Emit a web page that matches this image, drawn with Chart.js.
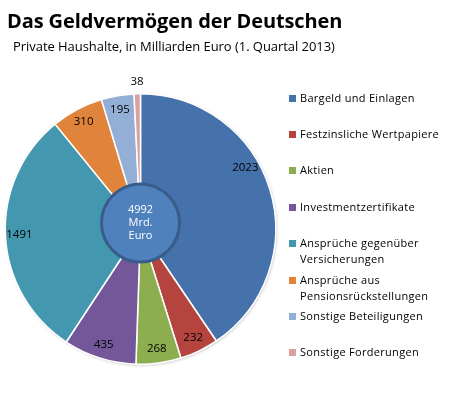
<!DOCTYPE html>
<html><head><meta charset="utf-8">
<script src="https://cdn.jsdelivr.net/npm/chart.js@4"></script>
<style>
html,body{margin:0;padding:0;background:#fff;}
#wrap{position:relative;width:449px;height:399px;overflow:hidden;font-family:"Open Sans",sans-serif;}
#c{position:absolute;left:0;top:0;}
#title{position:absolute;left:7px;top:7px;font-weight:bold;font-size:20px;color:#000;white-space:nowrap;letter-spacing:-0.1px;}
#sub{position:absolute;left:13px;top:37px;font-size:13px;color:#000;white-space:nowrap;letter-spacing:-0.05px;}
#legend{position:absolute;left:288px;top:0;font-size:11px;color:#000;}
.li{position:absolute;left:0;white-space:nowrap;line-height:16px;padding-left:12px;letter-spacing:0.3px;}
.sw{position:absolute;left:1px;top:5px;width:7px;height:7px;}
</style></head>
<body><div id="wrap">
<canvas id="c" width="449" height="399"></canvas>
<div id="title">Das Geldvermögen der Deutschen</div>
<div id="sub">Private Haushalte, in Milliarden Euro (1. Quartal 2013)</div>
<div id="legend"></div>
</div>
<script>
const categories = ["Bargeld und Einlagen","Festzinsliche Wertpapiere","Aktien","Investmentzertifikate","Ansprüche gegenüber Versicherungen","Ansprüche aus Pensionsrückstellungen","Sonstige Beteiligungen","Sonstige Forderungen"];
const values = [2023, 232, 268, 435, 1491, 310, 195, 38];
const legendLines = [["Bargeld und Einlagen"],["Festzinsliche Wertpapiere"],["Aktien"],["Investmentzertifikate"],["Ansprüche gegenüber","Versicherungen"],["Ansprüche aus","Pensionsrückstellungen"],["Sonstige Beteiligungen"],["Sonstige Forderungen"]];
const centerLines = ["4992","Mrd.","Euro"];
const colors = ["#4672AB","#B5443F","#8DAE4E","#73579A","#4398B0","#E0843C","#94AFD6","#D9A09E"];

// legend (HTML)
const legendTops = [90,126,162,199,235,272,308,344];
const lg = document.getElementById('legend');
legendLines.forEach((lines,i)=>{
  const d=document.createElement('div'); d.className='li'; d.style.top=legendTops[i]+'px';
  d.innerHTML='<span class="sw" style="background:'+colors[i]+'"></span>'+lines.join('<br>');
  lg.appendChild(d);
});

const labelPlugin = {
  id:'labels',
  beforeDatasetsDraw(chart){
    const ctx=chart.ctx; const a0=chart.getDatasetMeta(0).data[0];
    if(!a0) return;
    ctx.save();
    ctx.shadowColor='rgba(0,0,0,0.25)'; ctx.shadowBlur=3; ctx.shadowOffsetX=1; ctx.shadowOffsetY=1;
    ctx.beginPath(); ctx.arc(a0.x,a0.y,a0.outerRadius,0,Math.PI*2); ctx.fillStyle='#fff'; ctx.fill();
    ctx.restore();
  },
  afterDatasetsDraw(chart){
    const ctx=chart.ctx; const meta=chart.getDatasetMeta(0);
    ctx.save();
    ctx.font='11.5px "Open Sans", sans-serif'; ctx.fillStyle='#000'; ctx.textAlign='center'; ctx.textBaseline='middle';
    const frac={0:0.41};
    const total=values.reduce((s,v)=>s+v,0);
    meta.data.forEach((arc,i)=>{
      const p=arc.getProps(['x','y','startAngle','endAngle','outerRadius'],true);
      const f = frac[i]!==undefined?frac[i]:0.5;
      const a=p.startAngle+(p.endAngle-p.startAngle)*f;
      const small = values[i]/total < 0.02;
      const r = small ? p.outerRadius+12 : p.outerRadius-14;
      ctx.fillText(String(values[i]), p.x+Math.cos(a)*r, p.y+Math.sin(a)*r);
    });
    // center circle
    const a0=meta.data[0];
    const cx=a0.x, cy=a0.y-6, cr=39;
    ctx.beginPath(); ctx.arc(cx,cy,cr,0,Math.PI*2);
    ctx.fillStyle='#4F81BD'; ctx.fill();
    ctx.lineWidth=3; ctx.strokeStyle='#385D8A'; ctx.stroke();
    ctx.fillStyle='#fff'; ctx.font='11px "Open Sans", sans-serif';
    centerLines.forEach((t,j)=>ctx.fillText(t,cx,cy-13+j*13));
    ctx.restore();
  }
};

new Chart(document.getElementById('c'),{
  type:'pie',
  data:{labels:categories,datasets:[{data:values,backgroundColor:colors,borderColor:'#fff',borderWidth:1.5}]},
  options:{
    responsive:false,animation:false,
    layout:{padding:{left:4,top:93,right:172,bottom:34}},
    plugins:{legend:{display:false},tooltip:{enabled:false},title:{display:false}}
  },
  plugins:[labelPlugin]
});
</script>
</body></html>
